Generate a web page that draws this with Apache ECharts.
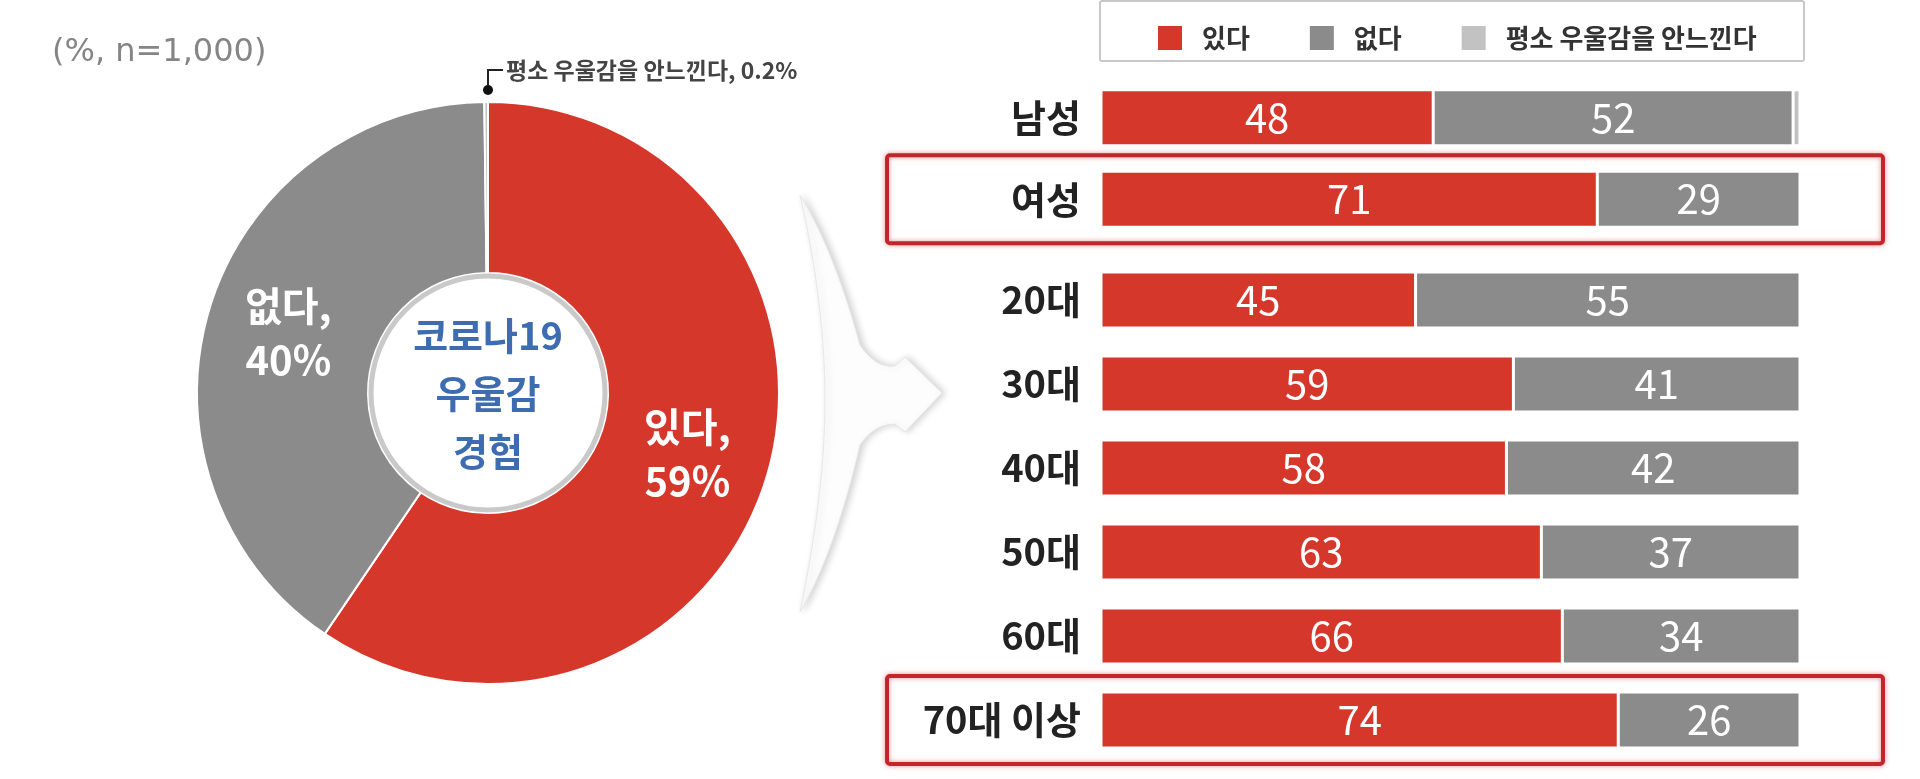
<!DOCTYPE html>
<html>
<head>
<meta charset="utf-8">
<script src="https://cdn.jsdelivr.net/npm/echarts@6/dist/echarts.min.js"></script>
<style>
html,body{margin:0;padding:0;background:#fff;}
#main{width:1920px;height:779px;}
</style>
</head>
<body>
<div id="main"></div>
<script>
// ---- data ----
const seriesNames = ['있다', '없다', '평소 우울감을 안느낀다'];
const pieValues = [59, 40, 0.2];
const noteText = '(%, n=1,000)';
const centerText = ['코로나19', '우울감', '경험'];

const genderCats = ['남성', '여성'];
const genderYes = [48, 71];
const genderNo = [52, 29];
const genderNone = [1, 0];

const ageCats = ['20대', '30대', '40대', '50대', '60대', '70대 이상'];
const ageYes = [45, 59, 58, 63, 66, 74];
const ageNo = [55, 41, 42, 37, 34, 26];
const ageNone = [0, 0, 0, 0, 0, 0];

const highlighted = ['여성', '70대 이상'];

// ---- styles ----
const FONT = "'Noto Sans CJK KR', 'Noto Sans', sans-serif";
const RED = '#d5372b';
const GRAY = '#8b8b8b';
const LGRAY = '#c2c2c2';
const COLORS = [RED, GRAY, LGRAY];

const chart = echarts.init(document.getElementById('main'), null, {renderer: 'canvas'});

function norm(rows, i) {
  const total = rows.reduce((s, r) => s + r[i], 0);
  return total ? 100 / total : 1;
}
function barSeries(gridIdx, lists) {
  return lists.map((vals, si) => ({
    name: seriesNames[si],
    type: 'bar',
    stack: 'g' + gridIdx,
    xAxisIndex: gridIdx,
    yAxisIndex: gridIdx,
    barWidth: 56,
    itemStyle: {color: COLORS[si], borderColor: '#fff', borderWidth: 1.5},
    label: {
      show: true,
      position: 'inside',
      color: '#fff',
      fontFamily: FONT,
      fontSize: 40,
      formatter: p => (vals[p.dataIndex] >= 5 ? String(vals[p.dataIndex]) : '')
    },
    data: vals.map((v, i) => v * norm(lists, i))
  }));
}

const catAxis = (idx, cats) => ({
  type: 'category',
  gridIndex: idx,
  data: cats,
  inverse: true,
  axisLine: {show: false},
  axisTick: {show: false},
  axisLabel: {fontFamily: FONT, fontSize: 38, fontWeight: 'bold', color: '#222', margin: 20}
});
const valAxis = idx => ({
  type: 'value', gridIndex: idx, min: 0, max: 100, show: false, splitLine: {show: false}
});

const option = {
  animation: false,
  backgroundColor: '#fff',
  color: COLORS,
  title: {
    text: noteText,
    left: 47, top: 32,
    textStyle: {fontFamily: "'DejaVu Sans', sans-serif", fontSize: 32, fontWeight: 'normal', color: '#858585'}
  },
  legend: {
    data: seriesNames,
    left: 1151, top: 19,
    itemWidth: 26, itemHeight: 26,
    itemGap: 58,
    icon: 'rect',
    selectedMode: false,
    textStyle: {fontFamily: FONT, fontSize: 26, fontWeight: 'bold', color: '#333', padding: [0, 0, 0, 14]}
  },
  grid: [
    {left: 1101, right: 120, top: 77, height: 163},
    {left: 1101, right: 120, top: 258, height: 504}
  ],
  xAxis: [valAxis(0), valAxis(1)],
  yAxis: [catAxis(0, genderCats), catAxis(1, ageCats)],
  series: [
    {
      type: 'pie',
      center: [488, 393],
      radius: [120, 291],
      startAngle: 90,
      clockwise: true,
      z: 3,
      itemStyle: {borderColor: '#fff', borderWidth: 2},
      label: {
        show: true,
        position: 'inside',
        fontFamily: FONT,
        fontSize: 40,
        fontWeight: 'bold',
        lineHeight: 54,
        color: '#fff',
        formatter: p => (p.value >= 5 ? p.name + ',\n' + p.value + '%' : '')
      },
      labelLine: {show: false},
      data: seriesNames.map((n, i) => ({name: n, value: pieValues[i], itemStyle: {color: COLORS[i]}}))
    },
    ...barSeries(0, [genderYes, genderNo, genderNone]),
    ...barSeries(1, [ageYes, ageNo, ageNone])
  ]
};
chart.setOption(option);

// ---- decorations ----
function bez(p0, p1, p2, p3, n) {
  const out = [];
  for (let k = 1; k <= n; k++) {
    const t = k / n, u = 1 - t;
    out.push([
      u*u*u*p0[0] + 3*u*u*t*p1[0] + 3*u*t*t*p2[0] + t*t*t*p3[0],
      u*u*u*p0[1] + 3*u*u*t*p1[1] + 3*u*t*t*p2[1] + t*t*t*p3[1]
    ]);
  }
  return out;
}
const arrowPts = [[800, 195]]
  .concat(bez([800, 195], [825, 235], [845, 290], [860, 345], 16))
  .concat(bez([860, 345], [870, 360], [882, 368], [895, 366], 6))
  .concat([[905, 357], [942, 393], [905, 432], [895, 424]])
  .concat(bez([895, 424], [882, 424], [870, 430], [860, 445], 6))
  .concat(bez([860, 445], [845, 510], [825, 570], [800, 612], 16))
  .concat(bez([800, 612], [815, 540], [825, 470], [825, 400], 12))
  .concat(bez([825, 400], [825, 330], [815, 260], [800, 195], 12));

const gfx = [];
gfx.push({
  id: 'arrow', type: 'polygon', z: 1,
  shape: {points: arrowPts},
  style: {fill: '#fdfdfd', stroke: '#e8e8e8', lineWidth: 1, shadowBlur: 7, shadowColor: 'rgba(0,0,0,0.18)', shadowOffsetX: 3}
});
gfx.push({
  id: 'hole', type: 'circle', z: 10,
  shape: {cx: 488, cy: 393, r: 117},
  style: {fill: '#fff', stroke: '#c9c9c9', lineWidth: 5}
});
gfx.push({
  id: 'holeText', type: 'text', z: 11,
  style: {
    x: 488, y: 394, text: centerText.join('\n'),
    fontFamily: FONT, fontSize: 38, fontWeight: 'bold', fill: '#3d6db0',
    lineHeight: 58, align: 'center', verticalAlign: 'middle'
  }
});
gfx.push({
  id: 'lead', type: 'polyline', z: 12,
  shape: {points: [[488, 90], [488, 70], [503, 70]]},
  style: {stroke: '#222', lineWidth: 2, fill: null}
});
gfx.push({id: 'dot', type: 'circle', z: 12, shape: {cx: 488, cy: 90, r: 5}, style: {fill: '#111'}});
gfx.push({
  id: 'leadText', type: 'text', z: 12,
  style: {
    x: 506, y: 70, text: seriesNames[2] + ', ' + pieValues[2] + '%',
    fontFamily: FONT, fontSize: 23, fontWeight: 'bold', fill: '#444', verticalAlign: 'middle'
  }
});
gfx.push({
  id: 'legBox', type: 'rect', z: 1,
  shape: {x: 1100, y: 1, width: 704, height: 60, r: 2},
  style: {fill: null, stroke: '#c8c8c8', lineWidth: 2}
});
highlighted.forEach((cat, i) => {
  const onGender = genderCats.indexOf(cat) >= 0;
  const y = chart.convertToPixel({yAxisIndex: onGender ? 0 : 1}, cat);
  gfx.push({
    id: 'hl' + i, type: 'rect', z: 0,
    shape: {x: 887, y: y - 44, width: 996, height: 88, r: 3},
    style: {fill: null, stroke: '#c2262c', lineWidth: 4, shadowBlur: 5, shadowColor: 'rgba(210,40,40,0.55)'}
  });
});
chart.setOption({graphic: gfx});
</script>
</body>
</html>
